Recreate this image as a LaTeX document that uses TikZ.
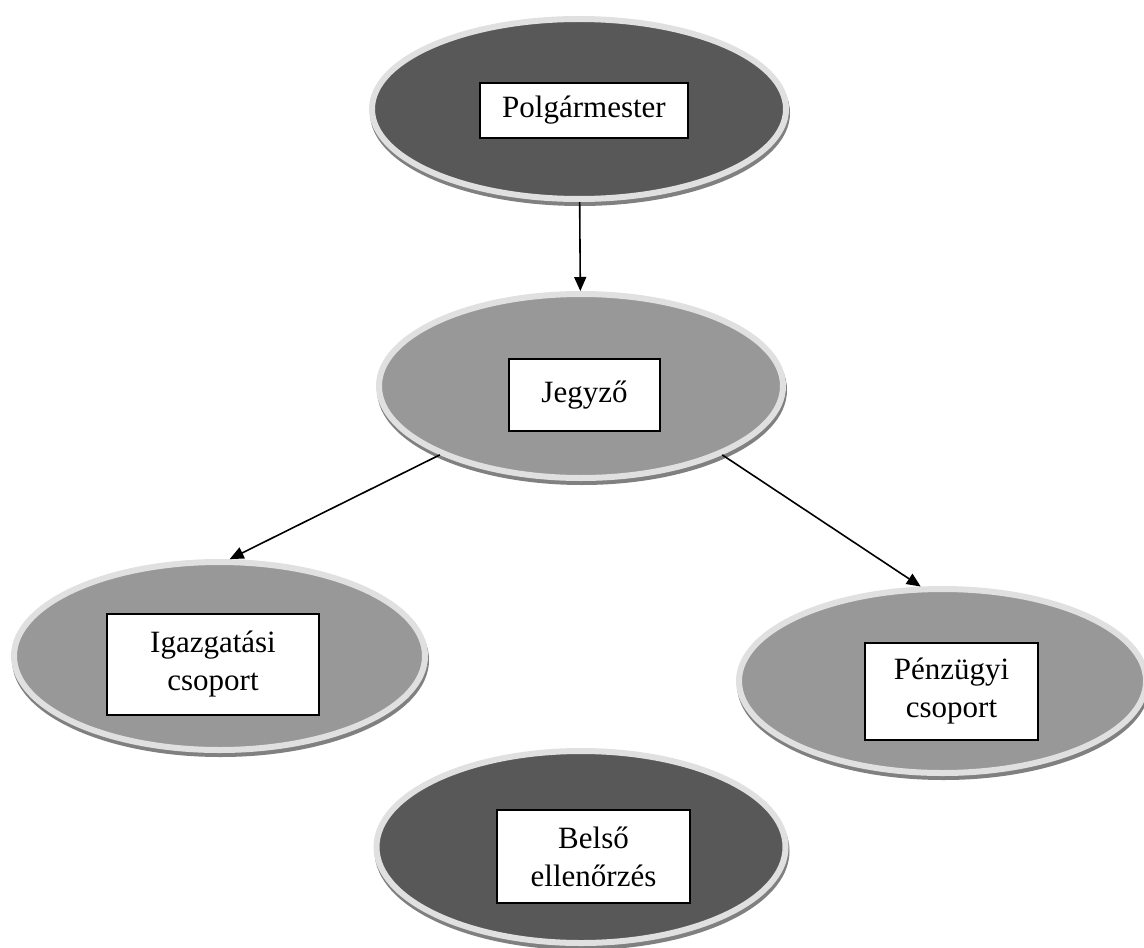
\documentclass[tikz,border=0pt]{standalone}
\usepackage{fontspec}
\setmainfont{Liberation Serif}
\usepackage{tikz}
\usetikzlibrary{shapes.geometric, shadows, arrows.meta}
\definecolor{darkoval}{RGB}{88, 88, 88}
\definecolor{lightoval}{RGB}{152, 152, 152}
\definecolor{rim}{RGB}{224, 224, 224}
\definecolor{rimshadow}{RGB}{128, 128, 128}

\begin{document}
\begin{tikzpicture}[x=0.5pt, y=-0.5pt,
    oval/.style={ellipse, draw=rim, line width=3pt,
      drop shadow={shadow xshift=0.5pt, shadow yshift=-2pt, fill=rimshadow,
                   draw=rimshadow, line width=3pt, opacity=1}},
    namebox/.style={draw, fill=white, line width=0.8pt, align=center, inner sep=0pt,
                    font=\fontsize{15.5}{19}\selectfont},
    link/.style={-{Triangle[length=7pt, width=6pt]}, line width=0.8pt}]
  \useasboundingbox (0, 0) rectangle (1144, 947);

  % ovals
  \node[oval, fill=darkoval, minimum width=207pt, minimum height=90pt] (polg) at (579, 109) {};
  \node[oval, fill=lightoval, minimum width=202pt, minimum height=92pt] (jegyzo) at (581, 386) {};
  \node[oval, fill=lightoval, minimum width=205.5pt, minimum height=94pt] (igazg) at (219.5, 656) {};
  \node[oval, fill=lightoval, minimum width=203.5pt, minimum height=92pt] (penz) at (942.5, 681) {};
  \node[oval, fill=darkoval, minimum width=204.5pt, minimum height=96pt] (belso) at (581, 847) {};

  % names
  \node[namebox, minimum width=104pt, minimum height=27.5pt] (polgbox) at (584, 110.5) {Polgármester};
  \node[namebox, minimum width=75.5pt, minimum height=36pt] (jegyzobox) at (584.5, 395) {Jegyző};
  \node[namebox, minimum width=106pt, minimum height=50.5pt] (igazgbox) at (213, 664.5) {Igazgatási\\csoport};
  \node[namebox, minimum width=86.5pt, minimum height=48.5pt] (penzbox) at (951.5, 691.5) {Pénzügyi\\csoport};
  \node[namebox, minimum width=96.5pt, minimum height=46.5pt] (belsobox) at (593.5, 856.5) {Belső\\ellenőrzés};

  \draw[link] (polg) -- (jegyzo);
  \draw[link] (jegyzo.206.7) -- (igazg.84);
  \draw[link] (jegyzo.-26) -- (penz.103);
\end{tikzpicture}
\end{document}
